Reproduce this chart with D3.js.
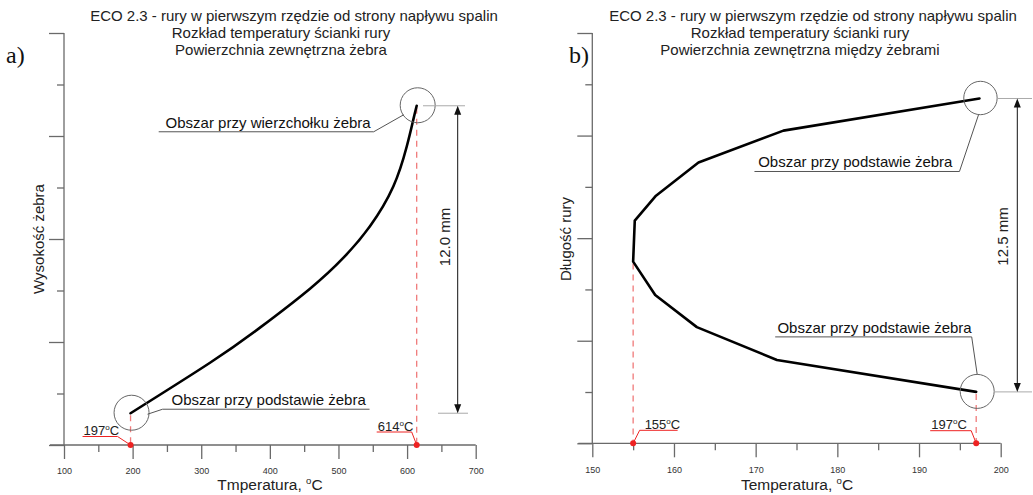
<!DOCTYPE html>
<html>
<head>
<meta charset="utf-8">
<script src="https://cdn.jsdelivr.net/npm/d3@7"></script>
<style>
  body { margin: 0; background: #fff; }
  svg { display: block; font-family: "Liberation Sans", Arial, sans-serif; }
</style>
</head>
<body>
<svg id="chart" width="1033" height="495"></svg>
<script>
// ---- data: panel a) temperature along the fin height ----
const finTempA   = [197, 312.8, 385.6, 458.5, 507, 545.9, 579.9, 599.4, 609, 614];
const finHeightA = [0, 1.97, 3.34, 4.86, 6.06, 7.30, 8.85, 10.40, 11.45, 12.0];
const xMajorA = [100, 200, 300, 400, 500, 600, 700];
const xMinorA = [150, 250, 350, 450, 550, 650];
const titleA = ["ECO 2.3 - rury w pierwszym rzędzie od strony napływu spalin",
                "Rozkład temperatury ścianki rury",
                "Powierzchnia zewnętrzna żebra"];

// ---- data: panel b) temperature along the tube between fins ----
const wallTempB = [197, 172.6, 162.8, 157.7, 155, 155.2, 157.8, 163.0, 173.4, 197.4];
const wallPosB  = [0, 1.36, 2.76, 4.13, 5.55, 7.3, 8.36, 9.77, 11.13, 12.5];
const xMajorB = [150, 160, 170, 180, 190, 200];
const xMinorB = [155, 165, 175, 185, 195];
const titleB = ["ECO 2.3 - rury w pierwszym rzędzie od strony napływu spalin",
                "Rozkład temperatury ścianki rury",
                "Powierzchnia zewnętrzna między żebrami"];

const svg = d3.select("#chart");
const AXIS = "#6a6a6a", LEAD = "#555", RED = "#ee2222", DASH = "#f07a7a";

// number + raised small "o" + "C"
function degText(sel, prefix, fs) {
  sel.attr("font-size", fs);
  sel.append("tspan").text(prefix);
  sel.append("tspan").attr("font-size", fs * 0.62).attr("dy", -fs * 0.38).text("o");
  sel.append("tspan").attr("dy", fs * 0.38).text("C");
}

function drawPanel(p) {
  const g = svg.append("g");
  const x = d3.scaleLinear().domain(p.xDomain).range(p.xRange);
  const y = d3.scaleLinear().domain(p.yDomain).range([p.base, p.top]);
  const yTicks = d3.range(9).map(i => p.yDomain[0] + i * (p.yDomain[1] - p.yDomain[0]) / 8);

  // panel letter
  g.append("text").attr("x", p.letterX).attr("y", 63)
    .attr("font-family", "'Liberation Serif', 'DejaVu Serif', serif")
    .attr("font-size", 24).attr("fill", "#111").text(p.letter);

  // title
  p.title.forEach((t, i) => {
    g.append("text").attr("x", i === 0 ? p.titleX0 : p.titleX).attr("y", 20.5 + i * 17)
      .attr("text-anchor", "middle").attr("font-size", 15).attr("fill", "#222").text(t);
  });

  // x axis: major ticks with labels, minor ticks without
  const axMaj = g.append("g").attr("transform", `translate(0,${p.base})`)
    .call(d3.axisBottom(x).tickValues(p.xMajor).tickSize(14).tickPadding(9).tickFormat(d3.format("d")));
  const axMin = g.append("g").attr("transform", `translate(0,${p.base})`)
    .call(d3.axisBottom(x).tickValues(p.xMinor).tickSize(7).tickFormat(""));
  [axMaj, axMin].forEach(a => {
    a.select(".domain").remove();
    a.selectAll("line").attr("stroke", AXIS).attr("stroke-width", 1.3);
  });
  axMaj.selectAll("text").attr("font-size", 9).attr("fill", "#333")
    .attr("font-family", "'Liberation Sans', Arial, sans-serif");
  g.append("line").attr("x1", p.xRange[0] - 14).attr("x2", p.xRange[1])
    .attr("y1", p.base).attr("y2", p.base).attr("stroke", AXIS).attr("stroke-width", 1.3);

  // y axis: unlabelled ticks, alternating long/short
  const ayL = g.append("g").attr("transform", `translate(${p.xRange[0]},0)`)
    .call(d3.axisLeft(y).tickValues(yTicks.filter((d, i) => i % 2 === 0)).tickSize(15).tickFormat(""));
  const ayS = g.append("g").attr("transform", `translate(${p.xRange[0]},0)`)
    .call(d3.axisLeft(y).tickValues(yTicks.filter((d, i) => i % 2 === 1)).tickSize(7).tickFormat(""));
  ayS.select(".domain").remove();
  ayL.select(".domain").attr("d", `M0,${p.base}V${p.top}`);
  [ayL, ayS].forEach(a => a.selectAll("line, path").attr("stroke", AXIS).attr("stroke-width", 1.3));

  // axis titles
  const xt = g.append("text").attr("x", p.xTitleX).attr("y", 490).attr("text-anchor", "middle")
    .attr("fill", "#222");
  degText(xt, p.xTitle, 15.5);
  g.append("text").attr("transform", `translate(${p.yTitleX},239) rotate(-90)`)
    .attr("text-anchor", "middle").attr("dy", "0.35em").attr("font-size", 15).attr("fill", "#222")
    .text(p.yTitle);

  // red dashed guides and markers
  p.marks.forEach(m => {
    const px = x(m.t), py = y(m.h);
    g.append("line").attr("x1", px).attr("x2", px).attr("y1", py + 2).attr("y2", p.base)
      .attr("stroke", DASH).attr("stroke-width", 1.3).attr("stroke-dasharray", "6,5");
    g.append("circle").attr("cx", px).attr("cy", p.base).attr("r", 3).attr("fill", RED);
    const lx = m.side < 0 ? px - m.len - m.slant : px + m.slant;
    g.append("path")
      .attr("d", m.side < 0
        ? `M${lx},${p.base - m.rise}H${px - m.slant}L${px},${p.base}`
        : `M${px},${p.base}L${px + m.slant},${p.base - m.rise}H${px + m.slant + m.len}`)
      .attr("fill", "none").attr("stroke", RED).attr("stroke-width", 1);
    const tt = g.append("text").attr("x", m.side < 0 ? lx + 1 : px + m.slant + 5)
      .attr("y", p.base - m.rise - 1.5).attr("fill", "#222");
    degText(tt, d3.format("d")(m.t), 13);
  });

  // curve
  g.append("path").datum(p.temps.map((t, i) => [t, p.heights[i]]))
    .attr("d", d3.line().x(d => x(d[0])).y(d => y(d[1])).curve(p.curve))
    .attr("fill", "none").attr("stroke", "#000").attr("stroke-width", 2.6)
    .attr("stroke-linejoin", "round").attr("stroke-linecap", "round");

  // callouts
  p.callouts.forEach(c => {
    const px = x(c.t), py = y(c.h);
    g.append("circle").attr("cx", px + 1).attr("cy", py - 0.5).attr("r", c.r)
      .attr("fill", "none").attr("stroke", "#666").attr("stroke-width", 1);
    g.append("path")
      .attr("d", `M${px + c.s[0]},${py + c.s[1]}L${px + c.e[0]},${py + c.e[1]}H${px + c.end}`)
      .attr("fill", "none").attr("stroke", LEAD).attr("stroke-width", 1);
    g.append("text").attr("x", px + c.tx).attr("y", py + c.ty).attr("text-anchor", c.anchor)
      .attr("font-size", 15).attr("fill", "#111").text(c.text);
  });

  // dimension arrow
  const hMax = d3.max(p.heights), y0 = y(0), y1 = y(hMax), dx = p.dimX;
  g.append("line").attr("x1", p.ext[0][0]).attr("x2", p.ext[0][1]).attr("y1", y1).attr("y2", y1)
    .attr("stroke", "#aaa").attr("stroke-width", 1);
  g.append("line").attr("x1", p.ext[1][0]).attr("x2", p.ext[1][1]).attr("y1", y0).attr("y2", y0)
    .attr("stroke", "#aaa").attr("stroke-width", 1);
  g.append("line").attr("x1", dx).attr("x2", dx).attr("y1", y1 + 4).attr("y2", y0 - 4)
    .attr("stroke", "#111").attr("stroke-width", 1);
  g.append("path").attr("d", `M${dx},${y1}l-3.5,9h7z M${dx},${y0}l-3.5,-9h7z`).attr("fill", "#111");
  g.append("text").attr("transform", `translate(${p.dimTextX},${p.dimTextY}) rotate(-90)`)
    .attr("text-anchor", "middle").attr("dy", "0.35em").attr("font-size", 15).attr("fill", "#222")
    .text(d3.format(".1f")(hMax) + " mm");
}

drawPanel({
  letter: "a)", letterX: 6,
  title: titleA, titleX0: 294, titleX: 281,
  xDomain: [100, 700], xRange: [64, 475.7], yDomain: [-1.24, 14.84], base: 445, top: 33,
  xMajor: xMajorA, xMinor: xMinorA,
  xTitle: "Tmperatura, ", xTitleX: 270, yTitle: "Wysokość żebra", yTitleX: 39,
  temps: finTempA, heights: finHeightA, curve: d3.curveNatural,
  marks: [
    { t: 197, h: 0, side: -1, slant: 13, rise: 8.5, len: 35 },
    { t: 614, h: 12, side: -1, slant: 5, rise: 13, len: 35 }
  ],
  callouts: [
    { t: 197, h: 0, r: 17.5, s: [17, 1], e: [32, -4], end: 239, tx: 41, ty: -8, anchor: "start",
      text: "Obszar przy podstawie żebra" },
    { t: 614, h: 12, r: 17.5, s: [-13, 9], e: [-43, 26], end: -258, tx: -46, ty: 22.5, anchor: "end",
      text: "Obszar przy wierzchołku żebra" }
  ],
  dimX: 457.7, ext: [[423, 465], [438, 468]], dimTextX: 445, dimTextY: 237
});

drawPanel({
  letter: "b)", letterX: 569,
  title: titleB, titleX0: 813, titleX: 800,
  xDomain: [150, 200], xRange: [592.3, 1000.7], yDomain: [-2.19, 15.29], base: 443.3, top: 33,
  xMajor: xMajorB, xMinor: xMinorB,
  xTitle: "Temperatura, ", xTitleX: 797, yTitle: "Długość rury", yTitleX: 566,
  temps: wallTempB, heights: wallPosB, curve: d3.curveLinear,
  marks: [
    { t: 155, h: 5.55, side: 1, slant: 6.5, rise: 13, len: 38 },
    { t: 197, h: 0, side: -1, slant: 5, rise: 12.6, len: 41 }
  ],
  callouts: [
    { t: 197.4, h: 12.5, r: 16.7, s: [-1, 16.5], e: [-20, 73], end: -225, tx: -27, ty: 69, anchor: "end",
      text: "Obszar przy podstawie żebra" },
    { t: 197, h: 0, r: 17, s: [1, -17.5], e: [-4.5, -55], end: -201, tx: -4.5, ty: -59, anchor: "end",
      text: "Obszar przy podstawie żebra" }
  ],
  dimX: 1017.3, ext: [[997, 1032], [995, 1032]], dimTextX: 1002.5, dimTextY: 236.5
});
</script>
</body>
</html>
